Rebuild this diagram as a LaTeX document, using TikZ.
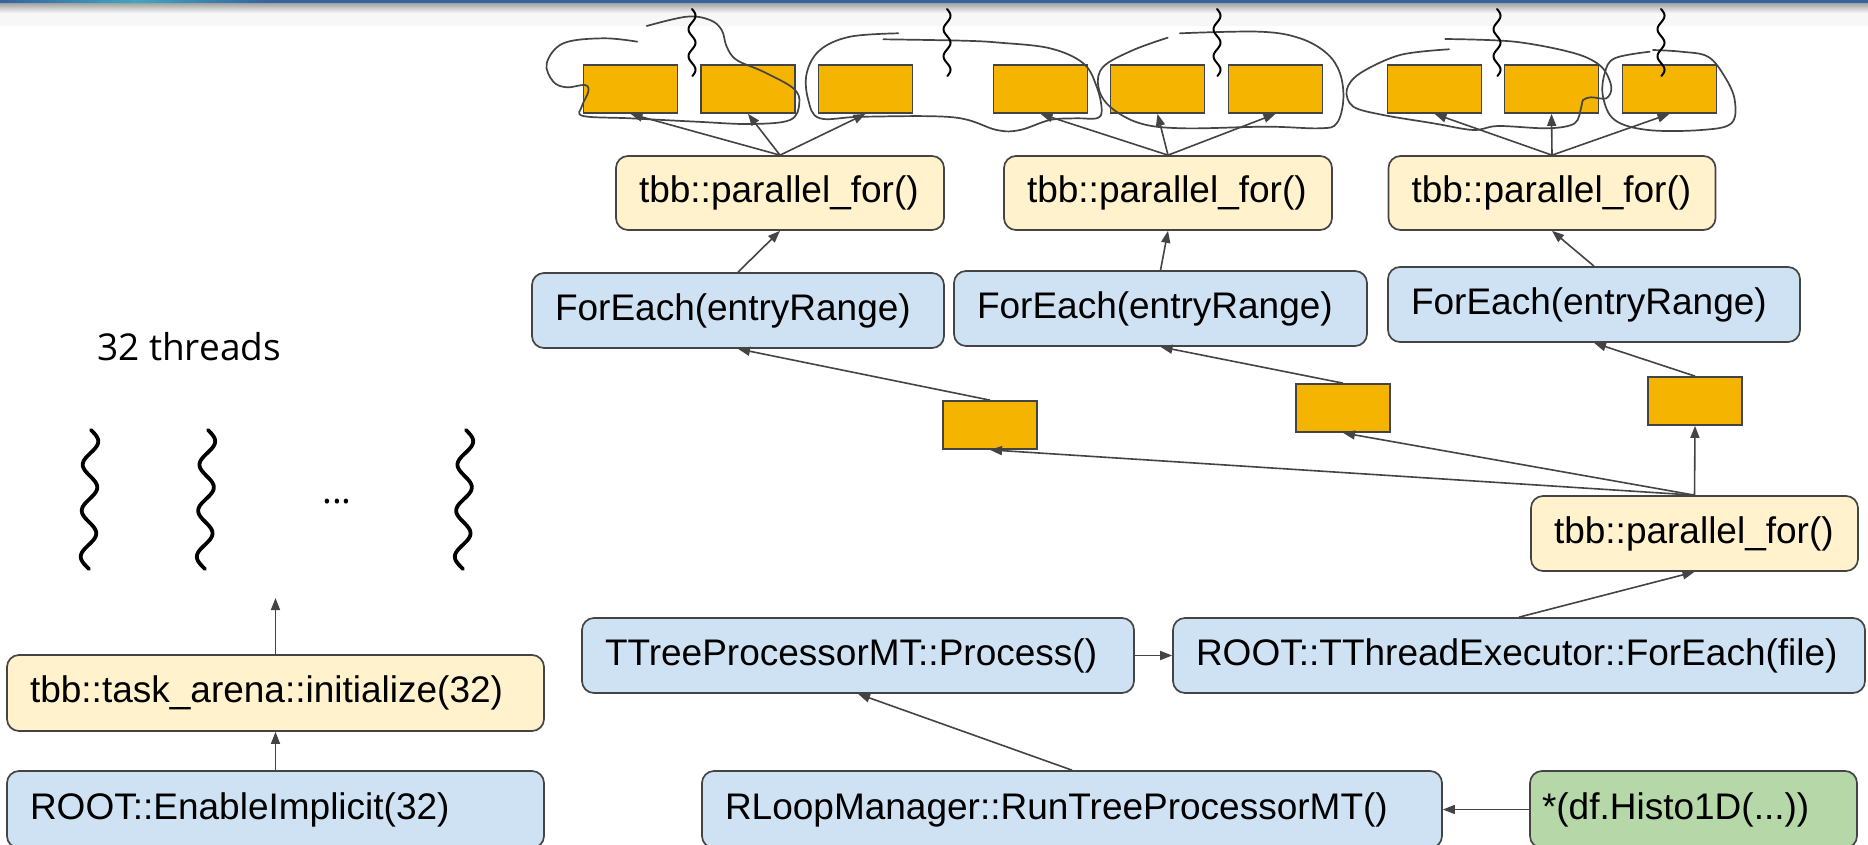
\documentclass[tikz,border=0pt]{standalone}
\usepackage{fontspec}
\newfontfamily\arialfont{Liberation Sans}
\newfontfamily\osfont{Open Sans}
\usetikzlibrary{arrows.meta}
\definecolor{boxblue}{HTML}{CFE2F3}
\definecolor{boxyellow}{HTML}{FFF2CC}
\definecolor{boxgreen}{HTML}{B6D7A8}
\definecolor{boxorange}{HTML}{F4B400}
\definecolor{edgegray}{HTML}{444444}
\definecolor{topblue}{HTML}{35649A}
\definecolor{topteal}{HTML}{3FA7C0}
\definecolor{lightstrip}{HTML}{F7F7F7}
\tikzset{
  basebox/.style={draw=edgegray, line width=1.7pt, rounded corners=12pt,
    font=\arialfont\fontsize{37}{44}\selectfont, inner xsep=23pt, inner ysep=0pt,
    align=left, anchor=center},
  bluebox/.style={basebox, fill=boxblue},
  yellowbox/.style={basebox, fill=boxyellow},
  greenbox/.style={basebox, fill=boxgreen},
  obox/.style={draw=edgegray, line width=1.7pt, fill=boxorange, minimum width=94pt,
    minimum height=48pt, inner sep=0pt},
  arr/.style={draw=edgegray, line width=1.6pt, -{Triangle[length=12pt,width=9pt]}},
  hand/.style={draw=edgegray, line width=1.7pt, line cap=round},
  thread/.style={draw=black, line width=3.8pt, line cap=round},
  tsq/.style={draw=black, line width=2pt, line cap=round},
  plain/.style={font=\osfont\fontsize{37}{44}\selectfont, inner sep=0pt}
}
\begin{document}
\begin{tikzpicture}[x=1pt,y=-1pt]
\useasboundingbox (0,0) rectangle (1868,844);
\fill[white] (0,0) rectangle (1868,844);
% top strip
\fill[topblue] (0,0) rectangle (1868,3.5);
\shade[left color=topblue, right color=topblue, middle color=topteal] (0,0) rectangle (270,3.5);
\shade[top color=black!35, bottom color=lightstrip] (0,3.5) rectangle (1868,13);
\fill[lightstrip] (0,13) rectangle (1868,26);

% left column
\node[plain, anchor=base west] (lbl) at (97,360) {32 threads};
\node[plain, anchor=base west] (dots) at (322,503) {...};
\draw[thread] plot[domain=0:139, samples=140, smooth] ({91 - 0.0216*\x + 7.5*sin(7.826*\x)}, {430+\x});
\draw[thread] plot[domain=0:139, samples=140, smooth] ({208 - 0.0288*\x + 7.5*sin(7.826*\x)}, {430+\x});
\draw[thread] plot[domain=0:139, samples=140, smooth] ({466 - 0.0288*\x + 7.5*sin(7.826*\x)}, {430+\x});

\node[yellowbox, minimum width=537pt, minimum height=76pt, text width=491pt] (TA) at (275.5,693) {tbb::task\_arena::initialize(32)};
\node[bluebox, minimum width=537pt, minimum height=77pt, text width=491pt] (EI) at (275.5,809.5) {ROOT::EnableImplicit(32)};
\coordinate (thr) at (275.5,598);

% lower right
\node[bluebox, minimum width=552pt, minimum height=75pt, text width=506pt] (TP) at (858,655.5) {TTreeProcessorMT::Process()};
\node[bluebox, minimum width=692pt, minimum height=75pt, text width=646pt] (TE) at (1519,655.5) {ROOT::TThreadExecutor::ForEach(file)};
\node[bluebox, minimum width=740pt, minimum height=77pt, text width=694pt] (RL) at (1072,809.5) {RLoopManager::RunTreeProcessorMT()};
\node[greenbox, inner xsep=12pt, minimum width=327pt, minimum height=77pt, text width=303pt] (H) at (1693.5,809.5) {*(df.Histo1D(...))};
\node[yellowbox, minimum width=327pt, minimum height=75pt, text width=281pt] (pf0) at (1694.5,533.5) {tbb::parallel\_for()};

% middle orange boxes
\node[obox] (mA) at (990,425) {};
\node[obox] (mB) at (1343,408) {};
\node[obox] (mC) at (1695,401) {};

% ForEach boxes
\node[bluebox, minimum width=412pt, minimum height=75pt, text width=366pt] (FE1) at (738,310.5) {ForEach(entryRange)};
\node[bluebox, minimum width=413pt, minimum height=75pt, text width=367pt] (FE2) at (1160.5,308.5) {ForEach(entryRange)};
\node[bluebox, minimum width=412pt, minimum height=75pt, text width=366pt] (FE3) at (1594,304.5) {ForEach(entryRange)};

% parallel_for boxes
\node[yellowbox, minimum width=328pt, minimum height=74pt, text width=282pt] (pf1) at (780,193) {tbb::parallel\_for()};
\node[yellowbox, minimum width=328pt, minimum height=74pt, text width=282pt] (pf2) at (1168,193) {tbb::parallel\_for()};
\node[yellowbox, minimum width=327pt, minimum height=74pt, text width=281pt] (pf3) at (1552,193) {tbb::parallel\_for()};

% top orange boxes
\node[obox] (b1) at (630.5,89) {};
\node[obox] (b2) at (748,89) {};
\node[obox] (b3) at (865.5,89) {};
\node[obox] (b4) at (1040.5,89) {};
\node[obox] (b5) at (1157.5,89) {};
\node[obox] (b6) at (1275.5,89) {};
\node[obox] (b7) at (1434.5,89) {};
\node[obox] (b8) at (1551.5,89) {};
\node[obox] (b9) at (1669.5,89) {};

% connectors
\draw[arr] (EI.north) -- (TA.south);
\draw[arr] (TA.north) -- (thr);
\draw[arr] (H.west) -- (RL.east);
\draw[arr] (RL.north) -- (TP.south);
\draw[arr] (TP.east) -- (TE.west);
\draw[arr] (TE.north) -- (pf0.south);
\draw[arr] (pf0.north) -- (mA.south);
\draw[arr] (pf0.north) -- (mB.south);
\draw[arr] (pf0.north) -- (mC.south);
\draw[arr] (mA.north) -- (FE1.south);
\draw[arr] (mB.north) -- (FE2.south);
\draw[arr] (mC.north) -- (FE3.south);
\draw[arr] (FE1.north) -- (pf1.south);
\draw[arr] (FE2.north) -- (pf2.south);
\draw[arr] (FE3.north) -- (pf3.south);
\foreach \b in {b1,b2,b3} \draw[arr] (pf1.north) -- (\b.south);
\foreach \b in {b4,b5,b6} \draw[arr] (pf2.north) -- (\b.south);
\foreach \b in {b7,b8,b9} \draw[arr] (pf3.north) -- (\b.south);

% hand-drawn groupings
\draw[hand] plot[smooth, tension=0.6] coordinates {(637.3,41.7) (603.3,38.3) (563.3,43.3) (546.7,63.3) (553.3,81.7) (566.7,87.3) (585,85) (588.3,91.7) (581.7,106.7) (583.3,116) (630,118.3) (696.7,121.7) (750,124) (790,120) (799.3,103.3) (793.3,88.3) (763.3,71.7) (736.7,60) (726.7,46.7) (721.7,30) (710,20) (686.7,16.7) (646.7,26)};
\draw[hand] plot[smooth, tension=0.6] coordinates {(898.3,33.3) (850,36.7) (820,50) (806.7,73.3) (808.3,100) (820,118.3) (863.3,116.7) (953.3,117.3) (996.7,130) (1020,130) (1050,120) (1076.7,118.3) (1096.7,118.3) (1101.7,110) (1096.7,86.7) (1083.3,63.3) (1050,48.3) (1000,42.7) (963.3,40.7) (883.3,39.3)};
\draw[hand] plot[smooth, tension=0.6] coordinates {(1167.7,37.7) (1133.3,50) (1103.3,66.7) (1098.3,86.7) (1110,106.7) (1140,123.3) (1183.3,128.3) (1266.7,126.7) (1320,128.3) (1336.7,123.3) (1343.3,100) (1340,73.3) (1326.7,53.3) (1300,38.3) (1260,31.7) (1180,33.3)};
\draw[hand] plot[smooth, tension=0.55] coordinates {(1449,49.3) (1400,55) (1360,73.3) (1346.7,90) (1353.3,106.7) (1383.3,115) (1433.3,123.3) (1473.3,130) (1498,126) (1548,128.3) (1574.7,123.3) (1581.3,106.7) (1583,100) (1591.3,97.3) (1606.3,98.3) (1611.3,86.7) (1601.3,66.7) (1574.7,53.3) (1514.7,41.7) (1445.3,39)};
\draw[hand] plot[smooth, tension=0.6] coordinates {(1649.7,51.7) (1614.7,58.3) (1604.7,73.3) (1603,96.7) (1614.7,120) (1648,130) (1701.3,130) (1731.3,123.3) (1734.7,100) (1724.7,76.7) (1708,56.7) (1681.3,51.7) (1653,50)};

% small thread squiggles
\foreach \c in {692,947,1217,1497,1661}
  \draw[tsq] plot[domain=0:67, samples=90, smooth] ({\c + 3.5*sin(13.33*\x)}, {9+\x});
\end{tikzpicture}
\end{document}
